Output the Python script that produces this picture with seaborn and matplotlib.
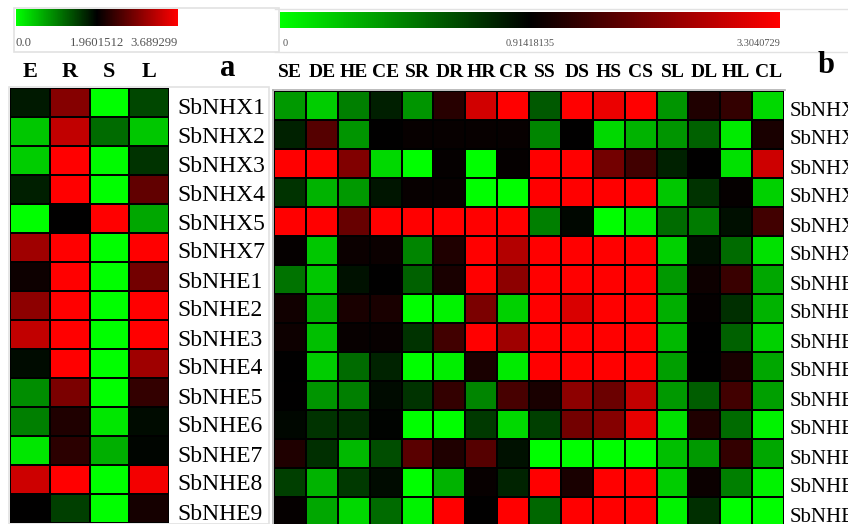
import matplotlib
matplotlib.use("Agg")
import matplotlib.pyplot as plt
import seaborn as sns
import pandas as pd
from matplotlib.colors import LinearSegmentedColormap
from matplotlib.patches import Rectangle
from matplotlib.transforms import ScaledTranslation

genes = ["SbNHX1", "SbNHX2", "SbNHX3", "SbNHX4", "SbNHX5", "SbNHX7", "SbNHE1", "SbNHE2",
         "SbNHE3", "SbNHE4", "SbNHE5", "SbNHE6", "SbNHE7", "SbNHE8", "SbNHE9"]
tissues = ["E", "R", "S", "L"]
treatments = ["SE", "DE", "HE", "CE", "SR", "DR", "HR", "CR",
              "SS", "DS", "HS", "CS", "SL", "DL", "HL", "CL"]

# relative level: -1 full green, 0 black, 1 full red
tissue_levels = [
    [-.10, .52, -1, -.28],
    [-.78, .75, -.42, -.78],
    [-.80, 1, -.98, -.20],
    [-.12, 1, -1, .38],
    [-1, 0, 1, -.65],
    [.62, 1, -1, 1],
    [.05, 1, -1, .45],
    [.55, 1, -1, 1],
    [.75, 1, -1, 1],
    [-.04, 1, -1, .62],
    [-.55, .48, -1, .20],
    [-.50, .12, -.90, -.04],
    [-.90, .17, -.68, -.02],
    [.80, 1, -1, .95],
    [0, -.25, -1, .08],
]
stress_levels = [
    [-.60, -.80, -.50, -.12, -.58, .15, .82, 1, -.35, 1, .92, 1, -.58, .12, .20, -.85],
    [-.13, .33, -.58, 0, .03, .03, .03, .03, -.52, 0, -.85, -.70, -.58, -.38, -.92, .10],
    [1, 1, .50, -.85, -1, .02, -1, .02, 1, 1, .45, .25, -.13, 0, -.88, .80],
    [-.20, -.70, -.60, -.08, .03, .03, -1, -1, 1, 1, 1, 1, -.78, -.20, .02, -.82],
    [1, 1, .40, 1, 1, 1, 1, 1, -.50, -.03, -1, -.92, -.42, -.48, -.06, .25],
    [.02, -.78, .04, .04, -.52, .12, 1, .70, 1, 1, 1, 1, -.82, -.06, -.42, -.88],
    [-.45, -.78, -.07, 0, -.38, .10, 1, .55, 1, 1, 1, 1, -.60, .05, .22, -.65],
    [.07, -.68, .10, .10, -1, -.95, .48, -.82, 1, .85, 1, 1, -.68, .02, -.18, -.70],
    [.05, -.75, .03, .03, -.20, .25, 1, .62, 1, 1, 1, 1, -.72, 0, -.38, -.82],
    [0, -.80, -.42, -.14, -1, -.93, .10, -.92, 1, 1, 1, 1, -.62, 0, .10, -.65],
    [0, -.58, -.50, -.04, -.20, .20, -.52, .28, .10, .55, .42, .75, -.60, -.36, .25, -.62],
    [-.03, -.20, -.18, -.01, -1, -1, -.22, -.85, -.25, .45, .52, .90, -.88, .12, -.42, -.95],
    [.12, -.18, -.72, -.30, .35, .12, .33, -.07, -1, -1, -1, -1, -.75, -.60, .20, -.65],
    [-.25, -.70, -.22, -.04, -1, -.70, .03, -.14, 1, .10, 1, 1, -.80, .04, -.50, -.95],
    [.02, -.65, -.85, -.42, -.95, 1, 0, 1, -.40, 1, 1, 1, -.95, -.18, -1, -1],
]
tissue_scale = ["0.0", "1.9601512", "3.689299"]
stress_scale = ["0", "0.91418135", "3.3040729"]

W, H = 848, 524
plt.rcParams["font.family"] = ["Liberation Serif", "DejaVu Serif"]
cmap = LinearSegmentedColormap.from_list("gbr", ["#00ff00", "#000000", "#ff0000"])

fig = plt.figure(figsize=(W / 100, H / 100), dpi=100)


def px_axes(x0, y0, x1, y1):
    # axes from pixel box, y measured from the top of the image
    return fig.add_axes([x0 / W, 1 - y1 / H, (x1 - x0) / W, (y1 - y0) / H])


def px_frame(x0, y0, x1, y1):
    fig.add_artist(Rectangle((x0 / W, 1 - y1 / H), (x1 - x0) / W, (y1 - y0) / H,
                             transform=fig.transFigure, fill=False,
                             ec="#e2e2e2", lw=1.2))


def nudge(label, dx, dy):
    # shift a tick label by pixels, positive dy goes down
    label.set_transform(label.get_transform() + ScaledTranslation(dx / 100, -dy / 100, fig.dpi_scale_trans))


def draw_map(ax, cax, levels, cols, scale, head_pad, head_size, tick_size, gene_pad, gene_size, zero_dx):
    df = pd.DataFrame(levels, index=genes, columns=cols)
    sns.heatmap(df, ax=ax, cmap=cmap, vmin=-1, vmax=1, linewidths=1.3, linecolor="black",
                cbar_ax=cax, cbar_kws={"orientation": "horizontal", "ticks": [-1, 0, 1]})
    ax.xaxis.tick_top()
    ax.yaxis.tick_right()
    ax.tick_params(axis="both", length=0)
    ax.tick_params(axis="x", pad=head_pad, labelsize=head_size)
    ax.tick_params(axis="y", pad=gene_pad, labelsize=gene_size, rotation=0)
    plt.setp(ax.get_xticklabels(), fontweight="bold", rotation=0)
    for lab in ax.get_yticklabels():
        nudge(lab, 0, 3)
    cax.set_xticks([-1, 0, 1], scale)
    cax.tick_params(axis="x", length=0, pad=8, labelsize=tick_size, labelcolor="#555555")
    labs = cax.get_xticklabels()
    labs[0].set_ha("left")
    labs[-1].set_ha("right")
    nudge(labs[0], zero_dx, 0)
    ax.collections[0].colorbar.outline.set_visible(False)


px_frame(14, 8, 279, 52)
fig.add_artist(plt.Line2D([275 / W, 1], [1 - 9 / H, 1 - 9 / H], color="#e2e2e2", lw=1))
fig.add_artist(plt.Line2D([275 / W, 1], [1 - 52 / H, 1 - 52 / H], color="#e2e2e2", lw=1))
px_frame(9, 87, 269, 524)
fig.add_artist(plt.Line2D([273 / W, 273 / W], [0, 1 - 90 / H], color="#b0b0b0", lw=1.2))
fig.add_artist(plt.Line2D([273 / W, 785 / W], [1 - 90 / H, 1 - 90 / H], color="#b0b0b0", lw=1.2))

ax_a = px_axes(10, 88, 169, 523)
cax_a = px_axes(16, 9, 178, 26)
draw_map(ax_a, cax_a, tissue_levels, tissues, tissue_scale, 4, 16, 9.2, 6, 17, 0)

ax_b = px_axes(274, 91, 784, 526)
cax_b = px_axes(280, 12, 780, 28)
draw_map(ax_b, cax_b, stress_levels, treatments, stress_scale, 7, 14, 7.5, 4, 15, 3)

fig.text(228 / W, 1 - 68 / H, "a", fontsize=22, fontweight="bold", ha="center", va="center")
fig.text(826 / W, 1 - 66 / H, "b", fontsize=22, fontweight="bold", ha="center", va="center")

fig.savefig("out.png", dpi=100)
